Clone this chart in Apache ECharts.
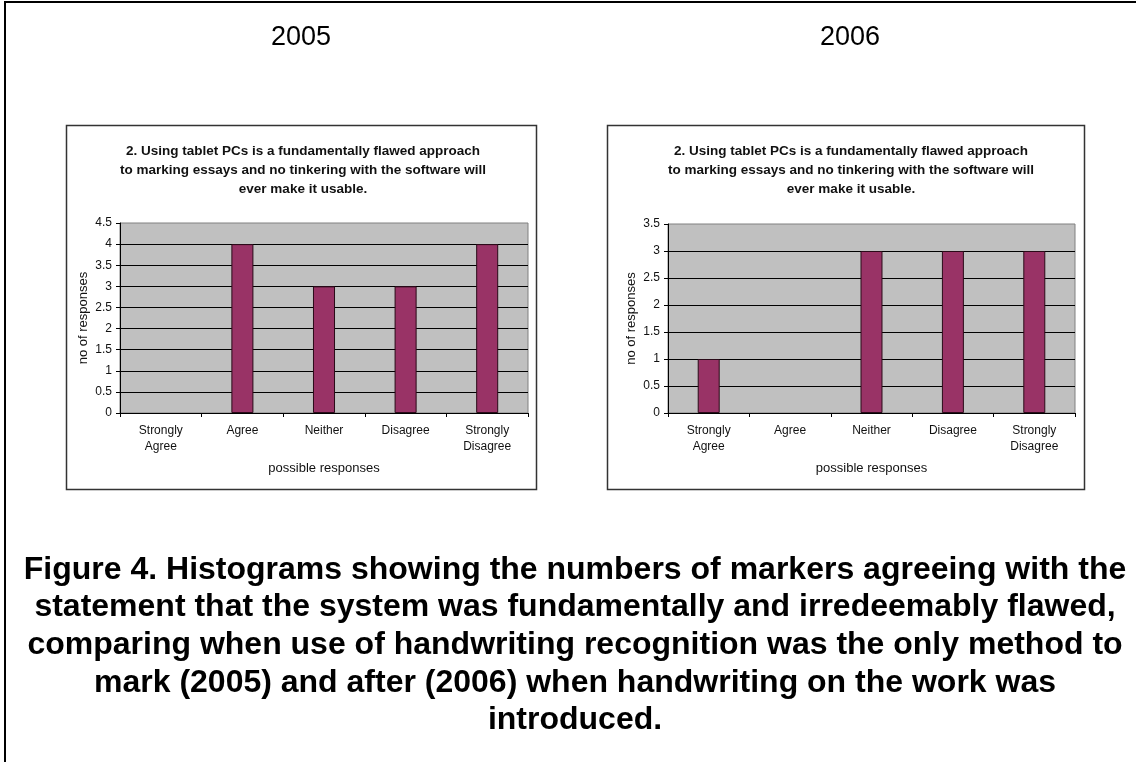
<!DOCTYPE html>
<html><head><meta charset="utf-8">
<script src="https://cdn.jsdelivr.net/npm/echarts@6/dist/echarts.min.js"></script>
<style>html,body{margin:0;padding:0;background:#fff}#c{width:1136px;height:762px}</style>
</head><body><div id="c"></div>
<script>
const categories = ['Strongly\nAgree', 'Agree', 'Neither', 'Disagree', 'Strongly\nDisagree'];
const values2005 = [0, 4, 3, 3, 4];
const values2006 = [1, 0, 3, 3, 3];
const yearLabels = ['2005', '2006'];
const chartTitle = '2. Using tablet PCs is a fundamentally flawed approach\nto marking essays and no tinkering with the software will\never make it usable.';
const xName = 'possible responses';
const yName = 'no of responses';
const yMax2005 = 4.5, yMax2006 = 3.5, yStep = 0.5;
const caption = 'Figure 4. Histograms showing the numbers of markers agreeing with the\nstatement that the system was fundamentally and irredeemably flawed,\ncomparing when use of handwriting recognition was the only method to\nmark (2005) and after (2006) when handwriting on the work was\nintroduced.';

const FONT = '"Liberation Sans", Arial, sans-serif';
const chart = echarts.init(document.getElementById('c'), null, {renderer: 'canvas'});

function gridDef(left, top, width, height) {
  return {left, top, width, height, show: true, backgroundColor: '#c0c0c0', borderColor: '#808080', borderWidth: 1, containLabel: false};
}
function xAxisDef(i) {
  return {
    type: 'category', gridIndex: i, data: categories,
    name: xName, nameLocation: 'middle', nameGap: 49,
    nameTextStyle: {fontFamily: FONT, fontSize: 13, color: '#111'},
    axisLine: {lineStyle: {color: '#000', width: 1}},
    axisTick: {show: true, alignWithLabel: false, length: 4, lineStyle: {color: '#000'}},
    axisLabel: {fontFamily: FONT, fontSize: 12, color: '#111', lineHeight: 16, margin: 10, interval: 0},
    splitLine: {show: false}
  };
}
function yAxisDef(i, max) {
  return {
    type: 'value', gridIndex: i, min: 0, max: max, interval: yStep,
    name: yName, nameLocation: 'middle', nameGap: 30, nameRotate: 90,
    nameTextStyle: {fontFamily: FONT, fontSize: 13, color: '#111'},
    axisLine: {show: true, lineStyle: {color: '#000', width: 1}},
    axisTick: {show: true, length: 4, lineStyle: {color: '#000'}},
    axisLabel: {fontFamily: FONT, fontSize: 12, color: '#111', margin: 8},
    splitLine: {show: true, showMaxLine: false, lineStyle: {color: '#000', width: 1}}
  };
}
function barSeries(i, data) {
  return {
    type: 'bar', xAxisIndex: i, yAxisIndex: i,
    data: data.map(v => (v === 0 ? '-' : v)), barWidth: '27%',
    itemStyle: {color: '#993366', borderColor: '#2a0a18', borderWidth: 1},
    silent: true, animation: false
  };
}

chart.setOption({
  animation: false,
  backgroundColor: '#ffffff',
  title: [
    {text: yearLabels[0], left: 296, top: 19, textAlign: 'center', textStyle: {fontFamily: FONT, fontSize: 27, fontWeight: 'normal', color: '#000'}},
    {text: yearLabels[1], left: 845, top: 19, textAlign: 'center', textStyle: {fontFamily: FONT, fontSize: 27, fontWeight: 'normal', color: '#000'}},
    {text: chartTitle, left: 298, top: 137, textAlign: 'center', textStyle: {fontFamily: FONT, fontSize: 13.5, fontWeight: 'bold', color: '#111', lineHeight: 19}},
    {text: chartTitle, left: 846, top: 137, textAlign: 'center', textStyle: {fontFamily: FONT, fontSize: 13.5, fontWeight: 'bold', color: '#111', lineHeight: 19}},
    {text: caption, left: 570, top: 546, textAlign: 'center', textStyle: {fontFamily: FONT, fontSize: 32, fontWeight: 'bold', color: '#000', lineHeight: 37.7}}
  ],
  graphic: [
    {type: 'rect', shape: {x: 66.5, y: 125.5, width: 470, height: 364}, style: {fill: null, stroke: '#333', lineWidth: 1.5}, z: -1},
    {type: 'rect', shape: {x: 607.5, y: 125.5, width: 477, height: 364}, style: {fill: null, stroke: '#333', lineWidth: 1.5}, z: -1},
    {type: 'line', shape: {x1: 5, y1: 2, x2: 5, y2: 762}, style: {stroke: '#000', lineWidth: 2}},
    {type: 'line', shape: {x1: 4, y1: 2, x2: 1136, y2: 2}, style: {stroke: '#000', lineWidth: 2}}
  ],
  grid: [gridDef(120, 223, 408, 190), gridDef(668, 224, 407, 189)],
  xAxis: [xAxisDef(0), xAxisDef(1)],
  yAxis: [yAxisDef(0, yMax2005), yAxisDef(1, yMax2006)],
  series: [barSeries(0, values2005), barSeries(1, values2006)]
});
</script>
</body></html>
